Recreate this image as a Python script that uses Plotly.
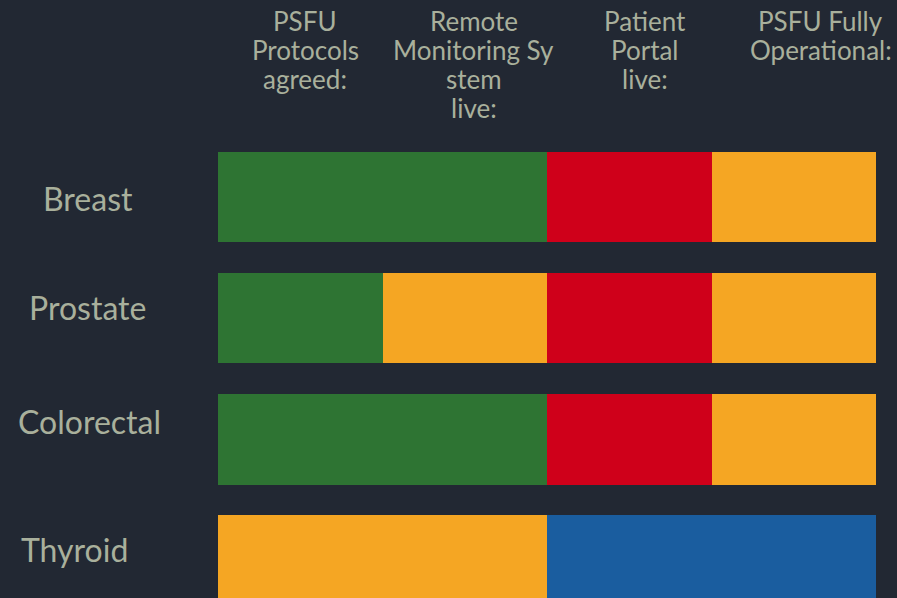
import plotly.graph_objects as go

# ---- data ----
rows = ["Breast", "Prostate", "Colorectal", "Thyroid"]
stages = [["PSFU", "Protocols", "agreed:"],
          ["Remote", "Monitoring Sy", "stem", "live:"],
          ["Patient", "Portal", "live:"],
          ["PSFU Fully", "Operational:"]]
breast_status = ["green", "green", "red", "amber"]
prostate_status = ["green", "amber", "red", "amber"]
colorectal_status = ["green", "green", "red", "amber"]
thyroid_status = ["amber", "amber", "blue", "blue"]
stage_units = [1, 1, 1, 1]

status_colors = {"green": "#2e7433", "red": "#cf001a", "amber": "#f5a623", "blue": "#1a5d9f"}

BG = "#222833"
TXT = "#a9b09c"
FONT = "Lato"

all_status = [breast_status, prostate_status, colorectal_status, thyroid_status]

fig = go.Figure()
for i, st in enumerate(stages):
    fig.add_trace(go.Bar(
        orientation="h",
        y=rows,
        x=[stage_units[i]] * len(rows),
        name=" ".join(st),
        marker=dict(color=[status_colors[s[i]] for s in all_status], line=dict(width=0)),
        width=0.745,
        hoverinfo="skip",
        showlegend=False,
    ))

# header annotations, one per line to control line spacing
header_shift = [5, 9, 16, 27]
LINE = 29.2
FIRST = 20.5
H = 598
for i, st in enumerate(stages):
    for k, line in enumerate(st):
        fig.add_annotation(
            x=sum(stage_units[:i]) + stage_units[i] / 2, xref="x",
            y=1 - (FIRST + k * LINE) / H, yref="paper", yanchor="middle", xanchor="center",
            xshift=header_shift[i],
            text=line, showarrow=False, align="center",
            font=dict(family=FONT, size=26, color=TXT),
        )

# row labels (x given in pixels, converted to paper fraction)
label_px = [88, 87, 89, 74]
label_yshift = [-1, 11, 18, 11]
for r, lx, ys in zip(rows, label_px, label_yshift):
    fig.add_annotation(
        x=(lx - 218) / (876 - 218), xref="paper", y=r, yref="y", yshift=ys,
        showarrow=False, xanchor="center",
        text=r, font=dict(family=FONT, size=32, color=TXT),
    )

fig.update_layout(
    width=897, height=598,
    margin=dict(l=218, r=21, t=0, b=0),
    paper_bgcolor=BG, plot_bgcolor=BG,
    barmode="stack",
    xaxis=dict(range=[0, 4], visible=False, fixedrange=True),
    yaxis=dict(range=[3.31, -1.63], visible=False, fixedrange=True),
    showlegend=False,
)

fig.write_html(
    "out.html",
    config={"displayModeBar": False},
    post_script="document.body.style.margin='0';document.body.style.background='%s';document.body.style.overflow='hidden';" % BG,
)
